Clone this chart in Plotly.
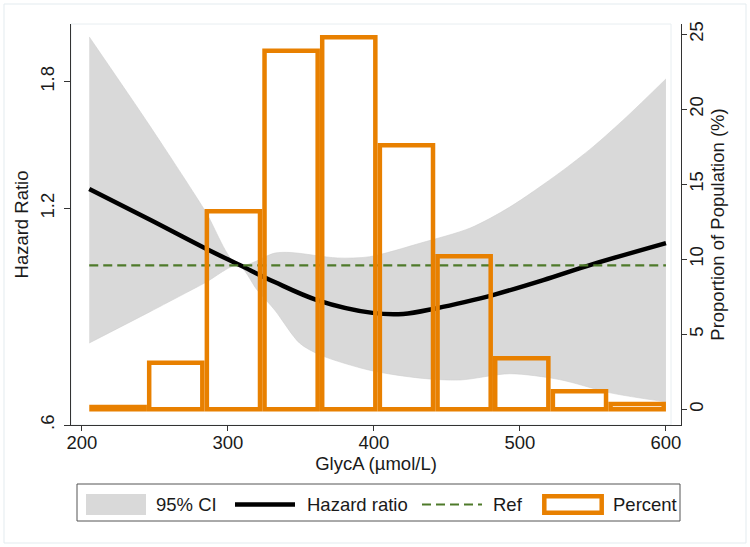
import math
import plotly.graph_objects as go

# ---------------- data ----------------
# Hazard ratio spline
hr_x = [205, 247, 284, 308, 332, 361, 399, 420, 443, 462, 482, 516, 550, 600]
hr_y = [1.277, 1.156, 1.057, 1.001, 0.948, 0.895, 0.859, 0.856, 0.872, 0.889, 0.910, 0.954, 1.004, 1.074]

# 95% CI bounds
ci_up_x = [205, 247, 284, 307, 332, 343, 375, 397, 432, 466, 493, 527, 550, 573, 600]
ci_up = [2.077, 1.557, 1.194, 1.0, 1.040, 1.042, 1.024, 1.028, 1.074, 1.127, 1.205, 1.344, 1.461, 1.608, 1.816]
ci_lo_x = [205, 247, 284, 307, 320, 332, 349, 363, 397, 432, 459, 493, 527, 562, 600]
ci_lo = [0.780, 0.863, 0.945, 1.0, 0.924, 0.867, 0.780, 0.751, 0.715, 0.697, 0.693, 0.707, 0.694, 0.665, 0.646]

# Reference line
ref_x = [205, 600]
ref_y = [1.0, 1.0]

# Histogram (percent of population)
bin_left = [205, 244.5, 284, 323.5, 363, 402.5, 442, 481.5, 521, 560.5]
bin_width = 39.5
pct = [0.15, 3.1, 13.2, 23.9, 24.8, 17.6, 10.2, 3.4, 1.2, 0.35]

x_ticks = [200, 300, 400, 500, 600]
hr_ticks = [0.6, 1.2, 1.8]
hr_ticktext = [".6", "1.2", "1.8"]
pct_ticks = [0, 5, 10, 15, 20, 25]

# ---------------- styles ----------------
FONT = "Liberation Sans, Arial, sans-serif"
FS = 18.5
TXT = "#1a1a1a"
ORANGE = "#E88000"
GREEN = "#4E7A2A"
GREY = "#D9D9D9"
AXC = "#333333"

W, H = 750, 547
L, R, T, B = 71, 69, 24, 122
PW, PH = W - L - R, H - T - B


def pxx(p):
    return (p - L) / PW


def pxy(p):
    return (H - B - p) / PH


bar_centers = [b + bin_width / 2 for b in bin_left]

fig = go.Figure()

# CI band
fig.add_trace(go.Scatter(x=ci_up_x, y=ci_up, mode="lines",
                         line=dict(color="#CFCFCF", width=0.6, shape="spline", smoothing=0.8),
                         showlegend=False, hoverinfo="skip"))
fig.add_trace(go.Scatter(x=ci_lo_x, y=ci_lo, mode="lines", fill="tonexty",
                         fillcolor=GREY,
                         line=dict(color="#CFCFCF", width=0.6, shape="spline", smoothing=0.8),
                         showlegend=False, hoverinfo="skip"))
# HR line
fig.add_trace(go.Scatter(x=hr_x, y=hr_y, mode="lines",
                         line=dict(color="black", width=4.5, shape="spline", smoothing=1.0),
                         showlegend=False))
# Ref line
fig.add_trace(go.Scatter(x=ref_x, y=ref_y, mode="lines",
                         line=dict(color=GREEN, width=2.2, dash="9px,5px"),
                         showlegend=False))
# Histogram
fig.add_trace(go.Bar(x=bar_centers, y=pct, width=bin_width - 3.1, yaxis="y2",
                     marker=dict(color="rgba(0,0,0,0)", line=dict(color=ORANGE, width=4.5)),
                     showlegend=False))

lo = math.log10(0.6)
hi = math.log10(0.6) + (PH / 312.5) / math.log(10)
y2_lo = -(425 - 409.3) / 15.0
y2_hi = (409.3 - 24) / 15.0

fig.update_layout(
    width=W, height=H,
    margin=dict(l=L, r=R, t=T, b=B, autoexpand=False),
    paper_bgcolor="white", plot_bgcolor="white",
    font=dict(family=FONT, size=FS, color=TXT),
    showlegend=False,
    xaxis=dict(range=[192.5, 610.3], tickvals=x_ticks, ticks="outside", ticklen=5,
               tickcolor=AXC, showline=True, linecolor=AXC, linewidth=1,
               showgrid=False, zeroline=False, automargin=False, ticklabelstandoff=-4,
               title=dict(text="GlycA (µmol/L)", standoff=4, font=dict(size=FS))),
    yaxis=dict(type="log", range=[lo, hi], tickvals=hr_ticks, ticktext=hr_ticktext,
               tickangle=-90, ticks="outside", ticklen=6, tickcolor=AXC,
               showline=True, linecolor=AXC, linewidth=1, showgrid=False,
               zeroline=False, automargin=False, ticklabelstandoff=3,
               title=dict(text="Hazard Ratio", standoff=3, font=dict(size=FS))),
    yaxis2=dict(overlaying="y", side="right", range=[y2_lo, y2_hi], tickvals=pct_ticks,
                tickangle=-90, ticks="outside", ticklen=5, tickcolor=AXC,
                showline=True, linecolor=AXC, linewidth=1, showgrid=False,
                zeroline=False, automargin=False, ticklabelstandoff=-6,
                title=dict(text="Proportion of Population (%)", standoff=1, font=dict(size=FS))),
)

shapes = []
# faint frames (graph + plot region)
shapes.append(dict(type="rect", xref="paper", yref="paper", x0=pxx(4), x1=pxx(746),
                   y0=pxy(4), y1=pxy(543), line=dict(color="#E3EBEF", width=1), layer="below"))
shapes.append(dict(type="rect", xref="paper", yref="paper", x0=pxx(71), x1=pxx(671),
                   y0=pxy(24), y1=pxy(425), line=dict(color="#E8EEF1", width=1), layer="below"))
# legend box
shapes.append(dict(type="rect", xref="paper", yref="paper", x0=pxx(77), x1=pxx(680),
                   y0=pxy(484), y1=pxy(521), line=dict(color="#555555", width=1),
                   fillcolor="white"))
ymid = 504.5
shapes.append(dict(type="rect", xref="paper", yref="paper", x0=pxx(86), x1=pxx(146),
                   y0=pxy(494), y1=pxy(515), line=dict(width=0), fillcolor=GREY))
shapes.append(dict(type="line", xref="paper", yref="paper", x0=pxx(235), x1=pxx(295),
                   y0=pxy(ymid), y1=pxy(ymid), line=dict(color="black", width=4.5)))
shapes.append(dict(type="line", xref="paper", yref="paper", x0=pxx(422), x1=pxx(482),
                   y0=pxy(ymid), y1=pxy(ymid), line=dict(color=GREEN, width=2.2, dash="9px,5px")))
shapes.append(dict(type="rect", xref="paper", yref="paper", x0=pxx(544.3), x1=pxx(601.7),
                   y0=pxy(496.3), y1=pxy(512.7), line=dict(color=ORANGE, width=4.5)))
fig.update_layout(shapes=shapes)

labels = [("95% CI", 154), ("Hazard ratio", 305), ("Ref", 491), ("Percent", 611)]
for txt, xp in labels:
    fig.add_annotation(text=txt, xref="paper", yref="paper", x=pxx(xp), y=pxy(ymid),
                       xanchor="left", yanchor="middle", showarrow=False,
                       font=dict(family=FONT, size=FS, color=TXT))

fig.write_html("out.html", config={"displayModeBar": False},
               post_script="document.body.style.margin='0px';document.body.style.overflow='hidden';")
